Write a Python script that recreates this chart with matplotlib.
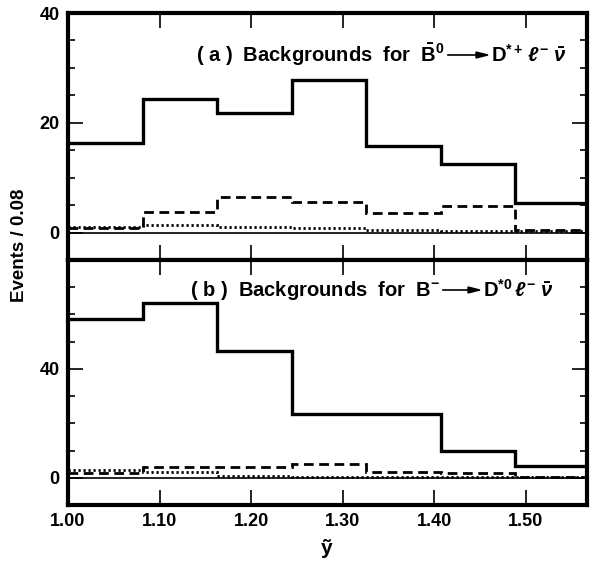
import matplotlib
matplotlib.use("Agg")
import matplotlib.pyplot as plt
from matplotlib.ticker import MultipleLocator, FixedLocator

# bin edges in y-tilde (7 bins)
edges = [1.0, 1.0814, 1.1629, 1.2443, 1.3257, 1.4071, 1.4886, 1.57]

# panel (a): B0bar -> D*+ l nu
a_total = [16.4, 24.4, 21.8, 27.8, 15.8, 12.5, 5.3]
a_dashed = [0.9, 3.8, 6.4, 5.5, 3.6, 4.9, 0.5]
a_dotted = [1.1, 1.4, 1.0, 0.8, 0.4, 0.3, 0.2]

# panel (b): B- -> D*0 l nu
b_total = [58.3, 64.1, 46.6, 23.5, 23.5, 9.9, 4.2]
b_dashed = [1.7, 3.9, 3.9, 4.9, 2.3, 1.7, 0.3]
b_dotted = [3.0, 2.0, 0.5, 0.4, 0.3, 0.3, 0.2]

xticks = [1.0, 1.1, 1.2, 1.3, 1.4, 1.5]
xticklabels = ["1.00", "1.10", "1.20", "1.30", "1.40", "1.50"]

plt.rcParams["font.family"] = ["Liberation Sans", "DejaVu Sans"]
plt.rcParams["font.weight"] = "bold"
plt.rcParams["mathtext.fontset"] = "custom"
plt.rcParams["mathtext.rm"] = "Liberation Sans:bold"
plt.rcParams["mathtext.bf"] = "Liberation Sans:bold"
plt.rcParams["mathtext.it"] = "Liberation Sans:italic:bold"

W, H = 590, 561
fig = plt.figure(figsize=(5.9, 5.61), dpi=100)
L, R = 68 / W, 587 / W
mid = (H - 260) / H
ax_a = fig.add_axes([L, mid, R - L, (H - 13) / H - mid])
ax_b = fig.add_axes([L, (H - 505) / H, R - L, mid - (H - 505) / H])


def draw_panel(ax, total, dashed, dotted):
    ax.axhline(0, color="black", lw=1.2)
    ax.stairs(dotted, edges, color="black", lw=2.0, linestyle=(0, (0.8, 1.0)), baseline=None)
    ax.stairs(dashed, edges, color="black", lw=2.0, linestyle=(0, (3.5, 2)), baseline=None)
    ax.stairs(total, edges, color="black", lw=2.4, baseline=None)
    ax.set_xlim(1.0, 1.567)
    for s in ax.spines.values():
        s.set_linewidth(3)
    ax.xaxis.set_major_locator(FixedLocator(xticks))
    ax.tick_params(axis="both", which="major", direction="in", length=11,
                   width=1.2, top=True, right=True, labelsize=13, pad=6)
    ax.tick_params(axis="both", which="minor", direction="in", length=5,
                   width=1.2, top=False, right=True, left=True)


def label(left, right, x_end, x_arrow_end, y, size=14.5):
    # left part ends at x_end, arrow drawn to x_arrow_end, right part after it
    fig.text(x_end / W, 1 - y / H, left, ha="right", va="center",
             fontsize=size, fontweight="bold")
    fig.add_artist(plt.Line2D([(x_end + 3) / W, (x_arrow_end - 6) / W],
                              [1 - y / H, 1 - y / H], color="black", lw=1.2))
    fig.add_artist(plt.Polygon([[(x_arrow_end - 12) / W, 1 - (y - 3) / H],
                                [(x_arrow_end - 12) / W, 1 - (y + 3) / H],
                                [x_arrow_end / W, 1 - y / H]],
                               closed=True, color="black"))
    fig.text((x_arrow_end + 3) / W, 1 - y / H, right, ha="left", va="center",
             fontsize=size, fontweight="bold")


draw_panel(ax_a, a_total, a_dashed, a_dotted)
ax_a.set_ylim(-5, 40)
ax_a.yaxis.set_major_locator(FixedLocator([0, 20, 40]))
ax_a.yaxis.set_minor_locator(MultipleLocator(5))
ax_a.set_xticklabels([])
label(r"( a )  Backgrounds  for  $\bar{\mathrm{B}}^{0}$",
      r"$\mathrm{D}^{*+}\,\mathit{\ell}^{-}\;\bar{\nu}$", 445, 488, 55)

draw_panel(ax_b, b_total, b_dashed, b_dotted)
ax_b.set_ylim(-10, 80)
ax_b.yaxis.set_major_locator(FixedLocator([0, 40, 80]))
ax_b.set_yticklabels(["0", "40", ""])
ax_b.yaxis.set_minor_locator(MultipleLocator(10))
ax_b.set_xticklabels(xticklabels)
label(r"( b )  Backgrounds  for  $\mathrm{B}^{-}$",
      r"$\mathrm{D}^{*0}\,\mathit{\ell}^{-}\;\bar{\nu}$", 440, 480, 290)

fig.text(20 / W, 1 - 245 / H, "Events / 0.08", rotation=90, ha="center", va="center",
         fontsize=13.5, fontweight="bold")
fig.text(327 / W, 1 - 548 / H, "ỹ", ha="center", va="center",
         fontsize=15, fontweight="bold")

fig.savefig("out.png", dpi=100)
